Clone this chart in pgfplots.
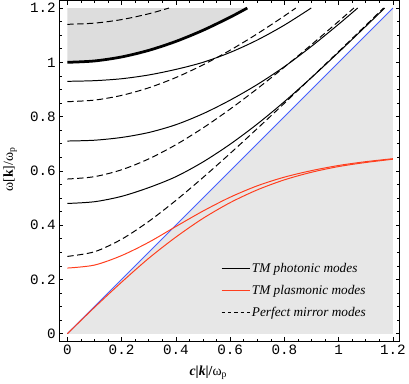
\documentclass[border=0pt]{standalone}
\usepackage{fontspec}
\setmainfont{Liberation Serif}
\setmonofont{Liberation Mono}
\usepackage{pgfplots}
\pgfplotsset{compat=1.18}

\definecolor{plasmred}{RGB}{255,62,30}
\definecolor{lightline}{RGB}{70,95,255}
\definecolor{shadelow}{RGB}{231,231,231}
\definecolor{shadetop}{RGB}{221,221,221}

\begin{document}
\begin{tikzpicture}
\begin{axis}[
    scale only axis,
    width=345bp, height=345bp,
    xmin=-0.03, xmax=1.225,
    ymin=-0.028, ymax=1.2265,
    xtick={0,0.2,0.4,0.6,0.8,1,1.2},
    ytick={0,0.2,0.4,0.6,0.8,1,1.2},
    minor tick num=3,
    major tick length=4bp,
    minor tick length=2.5bp,
    tick style={black, line width=0.6pt},
    axis line style={line width=0.8pt},
    ticklabel style={font=\ttfamily\fontsize{14.5}{14.5}\selectfont},
    /pgf/number format/assume math mode=true,
    xlabel={\textbf{\textit{c}|\textit{k}|/}ω\textsubscript{p}},
    ylabel={ω[\textbf{k}]/ω\textsubscript{p}},
    label style={font=\fontsize{14}{14}\selectfont},
    xlabel style={at={(axis description cs:0.438,-0.093)}, anchor=center},
    ylabel style={at={(axis description cs:-0.144,0.505)}, anchor=center},
    legend style={draw=none, fill=none, at={(axis cs:0.555,0.276)}, anchor=north west,
        font=\itshape\fontsize{13.5}{14}\selectfont, row sep=7.6bp, cells={anchor=west}},
    legend image code/.code={\draw[#1] (0cm,0cm) -- (1.0cm,0cm);},
]

% shaded regions
\addplot[draw=none, fill=shadelow, forget plot] coordinates {(0,0) (1.2,0) (1.2,1.2) (0,0)};
\addplot[draw=none, fill=shadetop, forget plot] coordinates {
  (0,1) (0.05,1.00125) (0.1,1.00499) (0.15,1.01119) (0.2,1.01980) (0.25,1.03078) (0.3,1.04403)
  (0.35,1.05948) (0.4,1.07703) (0.45,1.09659) (0.5,1.11803) (0.55,1.14127) (0.6,1.16619)
  (0.6633,1.2) (0,1.2) (0,1)};

% light line
\addplot[lightline, line width=0.9pt, forget plot] coordinates {(0,0) (1.2,1.2)};

% perfect mirror modes
\addplot[black, line width=1pt, dash pattern=on 6.5pt off 3.5pt, smooth, forget plot] coordinates {
  (0,0.285) (0.1,0.3020) (0.2,0.3482) (0.3,0.4138) (0.4,0.4911) (0.5,0.5755) (0.6,0.6642)
  (0.7,0.7558) (0.8,0.8492) (0.9,0.9441) (1.0,1.0398) (1.1,1.1363) (1.1657,1.2)};
\addplot[black, line width=1pt, dash pattern=on 6.5pt off 3.5pt, smooth, forget plot] coordinates {
  (0,0.57) (0.1,0.5787) (0.2,0.6041) (0.3,0.6441) (0.4,0.6963) (0.5,0.7582) (0.6,0.8276)
  (0.7,0.9027) (0.8,0.9823) (0.9,1.0653) (1.0,1.1510) (1.0560,1.2)};
\addplot[black, line width=1pt, dash pattern=on 6.5pt off 3.5pt, smooth, forget plot] coordinates {
  (0,0.855) (0.1,0.8608) (0.2,0.8781) (0.3,0.9061) (0.4,0.9439) (0.5,0.9905) (0.6,1.0445)
  (0.7,1.1050) (0.8,1.1709) (0.8420,1.2)};
\addplot[black, line width=1pt, dash pattern=on 6.5pt off 3.5pt, smooth, forget plot] coordinates {
  (0,1.14) (0.1,1.1444) (0.2,1.1574) (0.3,1.1788) (0.3747,1.2)};

% TM photonic modes
\addplot[black, line width=1pt, smooth, forget plot] coordinates {
  (0,0.48) (0.1,0.4864) (0.2,0.5062) (0.3,0.5383) (0.4,0.5786) (0.5,0.6329) (0.6,0.6982)
  (0.7,0.7726) (0.8,0.8551) (0.9,0.9440) (1.0,1.0371) (1.1,1.1327) (1.1697,1.2)};
\addplot[black, line width=1pt, smooth, forget plot] coordinates {
  (0,0.71) (0.1,0.7130) (0.2,0.7232) (0.3,0.7414) (0.4,0.7701) (0.5,0.8106) (0.6,0.8606)
  (0.7,0.9181) (0.8,0.9840) (0.9,1.0590) (1.0,1.1403) (1.0701,1.2)};
\addplot[black, line width=1pt, smooth, forget plot] coordinates {
  (0,0.93) (0.1,0.9324) (0.2,0.9395) (0.3,0.9534) (0.4,0.9739) (0.5,1.0000) (0.6,1.0363)
  (0.7,1.0820) (0.8,1.1371) (0.8989,1.2)};
\addplot[black, line width=2.8pt, smooth, forget plot] coordinates {
  (0,1) (0.1,1.0050) (0.2,1.0198) (0.3,1.0440) (0.4,1.0770) (0.5,1.1180) (0.6,1.1662) (0.6633,1.2)};

% TM plasmonic modes
\addplot[plasmred, line width=1pt, smooth, forget plot] coordinates {
  (0,0) (0.1,0.097) (0.2,0.190) (0.3,0.278) (0.4,0.356) (0.5,0.425) (0.6,0.483)
  (0.7,0.530) (0.8,0.567) (0.9,0.595) (1.0,0.616) (1.1,0.631) (1.2,0.643)};
\addplot[plasmred, line width=1pt, smooth, forget plot] coordinates {
  (0,0.242) (0.1,0.253) (0.2,0.288) (0.3,0.337) (0.4,0.395) (0.5,0.452) (0.6,0.503)
  (0.7,0.545) (0.8,0.577) (0.9,0.601) (1.0,0.620) (1.1,0.634) (1.2,0.645)};

\addlegendimage{black, line width=1pt}
\addlegendentry{TM photonic modes}
\addlegendimage{plasmred, line width=1pt}
\addlegendentry{TM plasmonic modes}
\addlegendimage{black, line width=1pt, dash pattern=on 3.5pt off 3pt}
\addlegendentry{Perfect mirror modes}

\end{axis}
\end{tikzpicture}
\end{document}
